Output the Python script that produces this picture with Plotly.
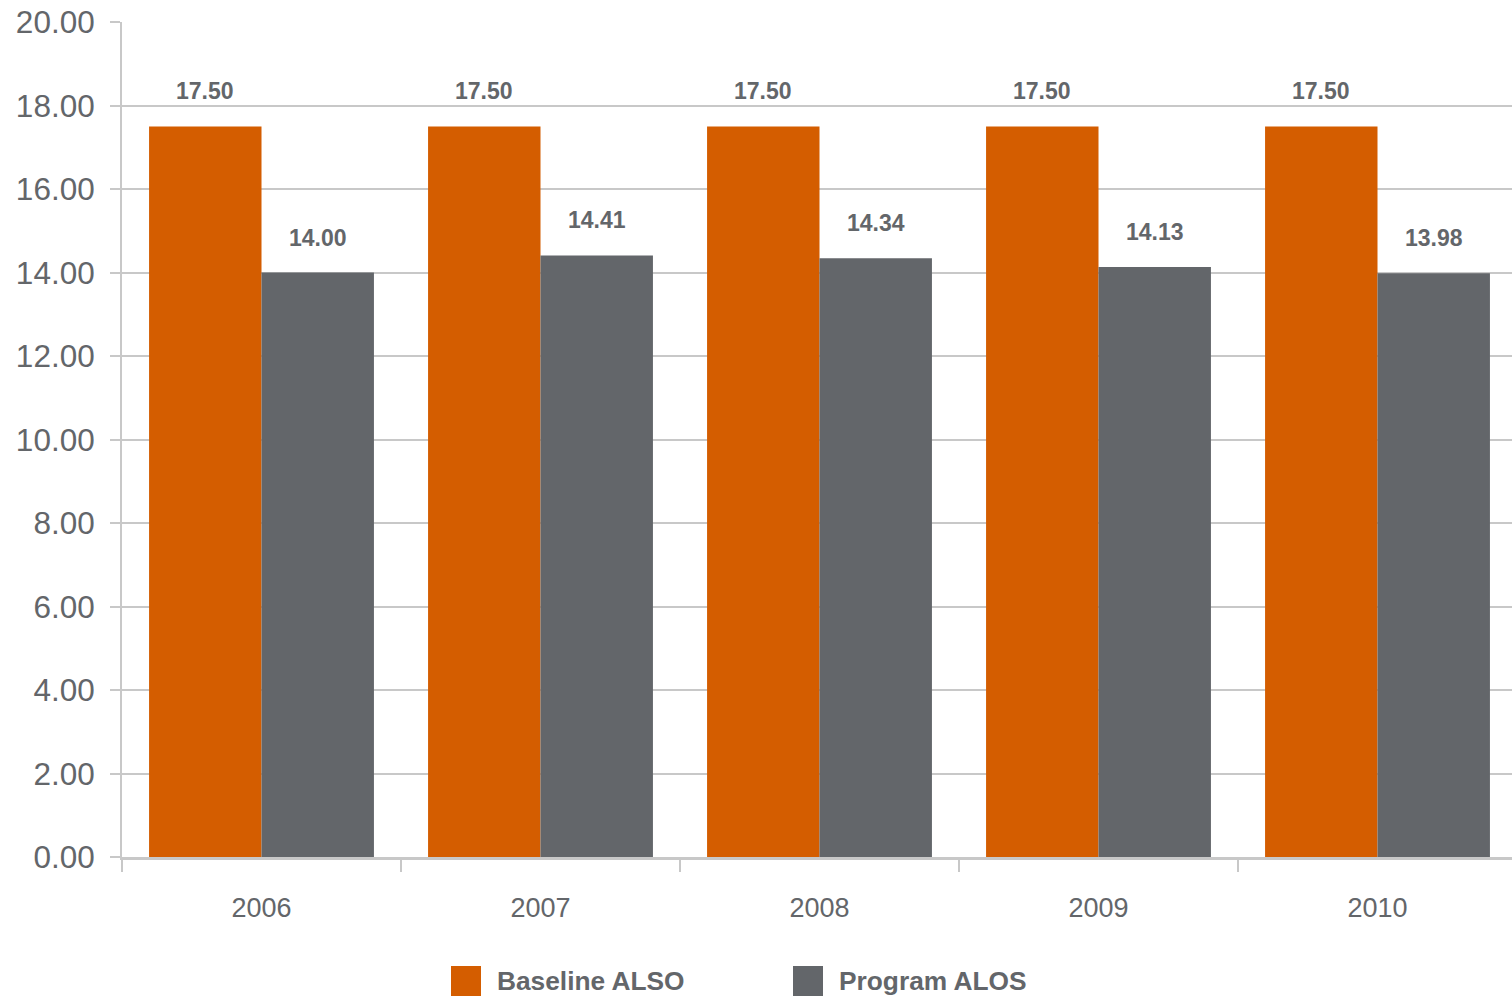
import plotly.graph_objects as go

years = ["2006", "2007", "2008", "2009", "2010"]
baseline = [17.50, 17.50, 17.50, 17.50, 17.50]
program = [14.00, 14.41, 14.34, 14.13, 13.98]
series_names = ["Baseline ALSO", "Program ALOS"]
colors = ["#D45D00", "#63666A"]
y_ticks = [0, 2, 4, 6, 8, 10, 12, 14, 16, 18, 20]

W, H = 1512, 996
ML, MR, MT, MB = 122, 0, 22, 139
BARGAP = 0.194
CAT_PX = 279  # pixel width of one category (the last is clipped by the page edge)

TEXT = "#63666A"
GRID = "#C8C8C8"

plot_w = W - ML - MR
plot_h = H - MT - MB

fig = go.Figure()
for name, vals, col in zip(series_names, [baseline, program], colors):
    fig.add_trace(go.Bar(x=years, y=vals, name=name, marker_color=col,
                         marker_line_width=0, showlegend=False))

# value labels above bars (category index positions)
bar_w = CAT_PX * (1 - BARGAP) / 2
for k, vals in enumerate([baseline, program]):
    shift = (-0.5 if k == 0 else 0.5) * bar_w
    for i, v in enumerate(vals):
        fig.add_annotation(x=i, y=v, xref="x", yref="y", text=f"{v:.2f}",
                           showarrow=False, xshift=shift, yshift=35,
                           yanchor="middle", xanchor="center",
                           font=dict(family="Liberation Sans", size=23, color=TEXT, weight="bold"))

# custom legend
def px_x(p):
    return (p - ML) / plot_w
def px_y(p):
    return (H - MB - p) / plot_h

legend_x = [451, 793]
for k, (name, col) in enumerate(zip(series_names, colors)):
    x0 = legend_x[k]
    fig.add_shape(type="rect", xref="paper", yref="paper",
                  x0=px_x(x0), x1=px_x(x0 + 30), y0=px_y(996), y1=px_y(966),
                  fillcolor=col, line_width=0)
    fig.add_annotation(xref="paper", yref="paper", x=px_x(x0 + 44), y=px_y(981),
                       text=name, showarrow=False, xanchor="left", yanchor="middle",
                       font=dict(family="Liberation Sans", size=26.3, color=TEXT, weight="bold"))

fig.update_layout(
    width=W, height=H,
    margin=dict(l=ML, r=MR, t=MT, b=MB, pad=0),
    barmode="group", bargap=BARGAP, bargroupgap=0,
    plot_bgcolor="white", paper_bgcolor="white",
    font=dict(family="Liberation Sans", color=TEXT),
    showlegend=False,
)
fig.update_yaxes(range=[0, 20], tickvals=y_ticks, ticktext=[f"{t:.2f}" for t in y_ticks],
                 showgrid=True, gridcolor=GRID, gridwidth=2,
                 showline=True, linecolor=GRID, linewidth=2,
                 ticks="outside", ticklen=10, tickwidth=2, tickcolor=GRID,
                 tickfont=dict(size=31.5, color=TEXT), ticklabelstandoff=9,
                 zeroline=False)
fig.update_xaxes(type="category", categoryorder="array", categoryarray=years,
                 range=[-0.5, -0.5 + plot_w / CAT_PX],
                 showline=True, linecolor=GRID, linewidth=3,
                 ticks="outside", tickson="boundaries", ticklen=12, tickwidth=2, tickcolor=GRID,
                 tickfont=dict(size=27, color=TEXT), ticklabelstandoff=25,
                 tickangle=0, showgrid=False)

fig.write_html("out.html")
